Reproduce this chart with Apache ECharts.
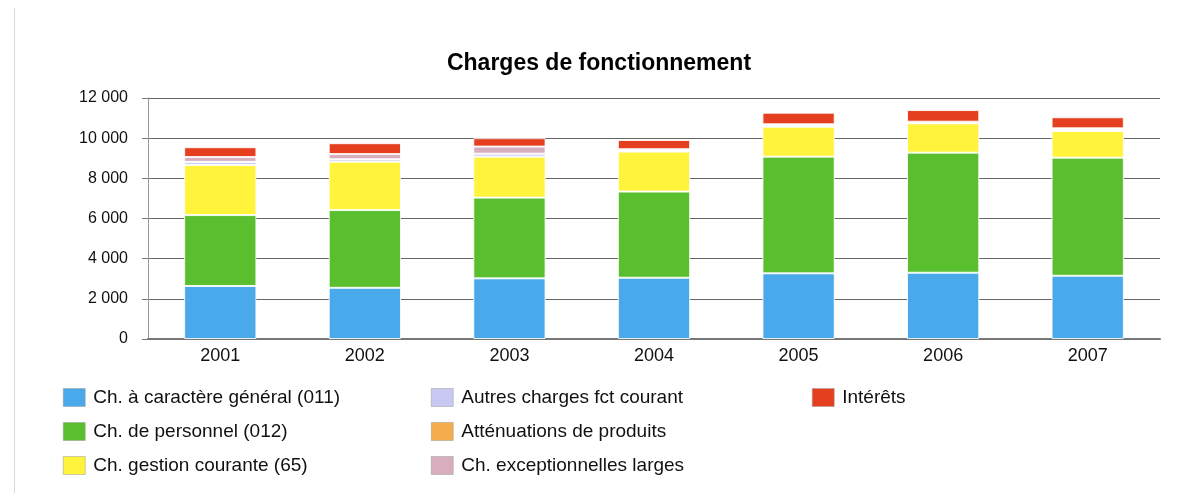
<!DOCTYPE html>
<html>
<head>
<meta charset="utf-8">
<script src="https://cdn.jsdelivr.net/npm/echarts@6/dist/echarts.min.js"></script>
<style>
  html, body { margin: 0; padding: 0; background: #fff; }
  #chart { width: 1198px; height: 493px; }
</style>
</head>
<body>
<div id="chart"></div>
<script>
const years = ['2001', '2002', '2003', '2004', '2005', '2006', '2007']

// valeurs (k€)
const chGeneral = [2640, 2550, 3020, 3050, 3270, 3300, 3150]
const chPersonnel = [3530, 3870, 4020, 4290, 5810, 5980, 5880]
const chGestion = [2500, 2410, 2040, 1990, 1490, 1460, 1330]
const autresCharges = [150, 120, 150, 50, 60, 40, 60]
const attenuations = [0, 0, 0, 0, 0, 0, 0]
const chExcept = [240, 260, 350, 70, 60, 40, 70]
const interets = [490, 540, 420, 460, 580, 580, 550]

const seriesDefs = [
  { name: 'Ch. à caractère général (011)', data: chGeneral, color: '#4aa9ea' },
  { name: 'Ch. de personnel (012)', data: chPersonnel, color: '#5abf2e' },
  { name: 'Ch. gestion courante (65)', data: chGestion, color: '#fff33b' },
  { name: 'Autres charges fct courant', data: autresCharges, color: '#c9c8f4' },
  { name: 'Atténuations de produits', data: attenuations, color: '#f4ad4a' },
  { name: 'Ch. exceptionnelles larges', data: chExcept, color: '#d8aebf' },
  { name: 'Intérêts', data: interets, color: '#e53f1f' }
]

const fmt = v => String(v).replace(/\B(?=(\d{3})+(?!\d))/g, ' ')

const chart = echarts.init(document.getElementById('chart'), null, { renderer: 'canvas' })

const legendBase = {
  orient: 'vertical',
  padding: 0,
  itemWidth: 22,
  itemHeight: 18,
  itemGap: 15,
  icon: 'rect',
  selectedMode: false,
  itemStyle: { borderWidth: 0.5, borderColor: '#999' },
  textStyle: { fontFamily: 'Liberation Sans', fontSize: 19, lineHeight: 18, color: '#111', padding: [0, 0, 0, 3] }
}

chart.setOption({
  animation: false,
  textStyle: { fontFamily: 'Liberation Sans' },
  title: {
    text: 'Charges de fonctionnement',
    left: 'center',
    top: 52,
    padding: 0,
    textStyle: { fontFamily: 'Liberation Sans', fontSize: 23, fontWeight: 'bold', color: '#000' }
  },
  graphic: [{
    type: 'line',
    shape: { x1: 14.5, y1: 8, x2: 14.5, y2: 493 },
    style: { stroke: '#d8d8d8', lineWidth: 1 }
  }],
  legend: [
    Object.assign({}, legendBase, { left: 63, top: 388, data: seriesDefs.slice(0, 3).map(s => s.name) }),
    Object.assign({}, legendBase, { left: 431, top: 388, data: seriesDefs.slice(3, 6).map(s => s.name) }),
    Object.assign({}, legendBase, { left: 812, top: 388, data: seriesDefs.slice(6).map(s => s.name) })
  ],
  grid: {
    left: 148,
    right: 38,
    top: 98,
    bottom: 154
  },
  xAxis: {
    type: 'category',
    data: years,
    axisLine: { lineStyle: { color: '#777', width: 2 } },
    axisTick: { show: false },
    axisLabel: { fontSize: 18, color: '#111', margin: 8 }
  },
  yAxis: {
    type: 'value',
    min: 0,
    max: 12000,
    interval: 2000,
    axisLine: { show: true, lineStyle: { color: '#999' } },
    axisTick: { show: true, length: 6, lineStyle: { color: '#777' } },
    axisLabel: { fontSize: 16, color: '#111', margin: 20, formatter: fmt },
    splitLine: { lineStyle: { color: '#666', width: 1.2 } }
  },
  series: seriesDefs.map(s => ({
    name: s.name,
    type: 'bar',
    stack: 'total',
    barWidth: '50%',
    data: s.data,
    itemStyle: { color: s.color, borderColor: 'rgba(255,255,255,0.85)', borderWidth: 1 }
  }))
})
</script>
</body>
</html>
